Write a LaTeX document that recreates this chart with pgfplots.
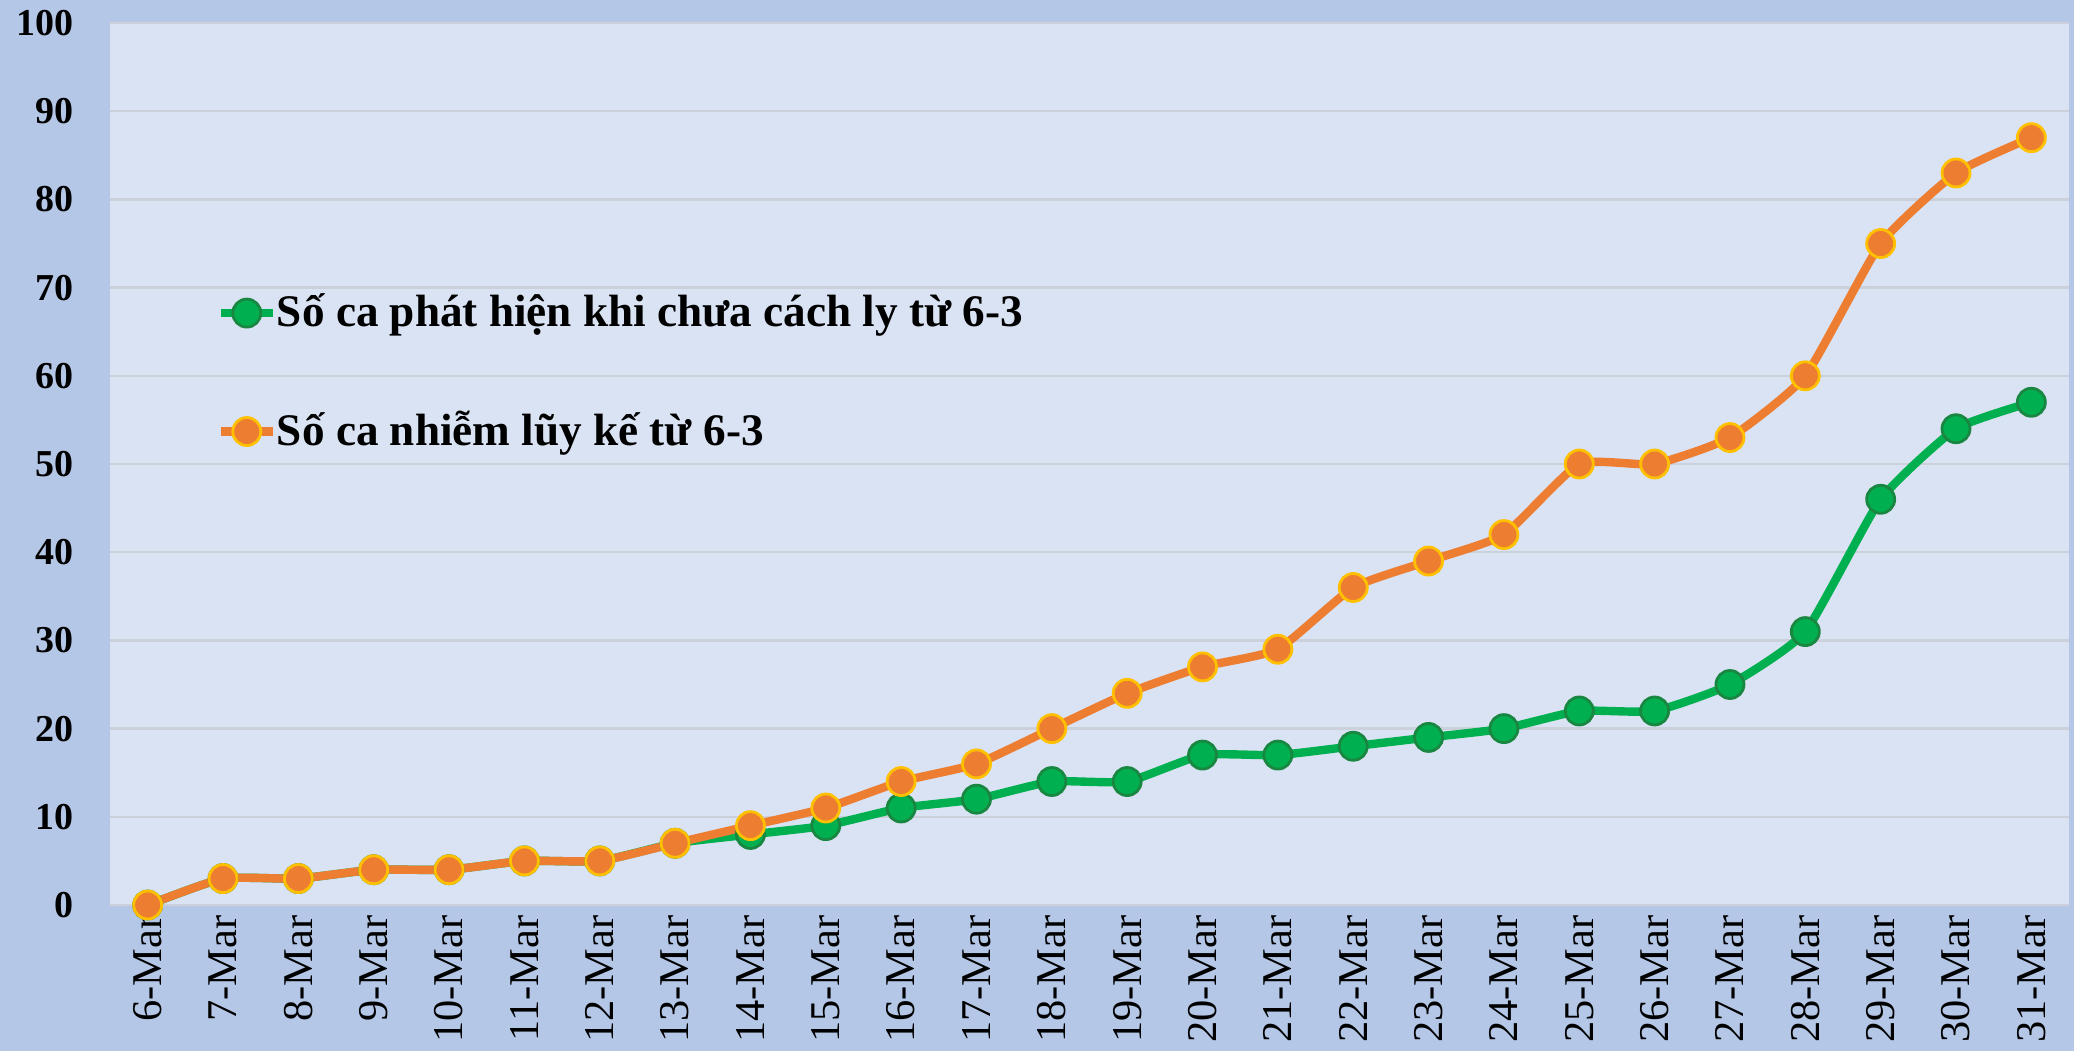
\documentclass[border=0pt]{standalone}
\usepackage{pgfplots}
\pgfplotsset{compat=1.18}
\usepackage{fontspec}
\setmainfont{Liberation Serif}
\usetikzlibrary{backgrounds,calc}
\definecolor{outerbg}{RGB}{180,199,231}
\definecolor{innerbg}{RGB}{218,227,243}
\definecolor{gridc}{RGB}{203,208,218}
\definecolor{cor}{RGB}{237,125,49}
\definecolor{cyel}{RGB}{255,192,0}
\definecolor{cgr}{RGB}{0,176,80}
\definecolor{cgrd}{RGB}{25,135,65}
\begin{document}
\begin{tikzpicture}
\begin{axis}[name=ax, scale only axis, width=489.75pt, height=220.5pt,
 xmin=-0.5, xmax=25.5, ymin=0, ymax=100,
 xtick={0,...,25},
 xticklabels={6-Mar,7-Mar,8-Mar,9-Mar,10-Mar,11-Mar,12-Mar,13-Mar,14-Mar,15-Mar,16-Mar,17-Mar,18-Mar,19-Mar,20-Mar,21-Mar,22-Mar,23-Mar,24-Mar,25-Mar,26-Mar,27-Mar,28-Mar,29-Mar,30-Mar,31-Mar},
 ytick={0,10,...,100},
 axis line style={draw=none}, major tick length=0pt,
 ymajorgrids, grid style={gridc, line width=0.6pt},
 axis background/.style={fill=innerbg},
 /pgf/number format/assume math mode=true,
 yticklabel style={font=\bfseries\fontsize{9.5}{10}\selectfont, inner sep=0pt, xshift=-9pt},
 xticklabel style={rotate=90, anchor=east, inner sep=0pt, xshift=-2.5pt, font=\fontsize{10.6}{12}\selectfont},
 clip=false,
 legend cell align=left,
 legend style={at={(rel axis cs:0.054,0.6035)}, anchor=west, draw=none, fill=none, inner sep=0pt, row sep=15.7pt,
   font=\bfseries\fontsize{11.3}{13}\selectfont,
   /tikz/every odd column/.append style={column sep=-2pt}},
 legend image code/.code={\draw[mark repeat=2, mark phase=2] plot coordinates {(0pt,0pt)(6.5pt,0pt)(13pt,0pt)};},
]
\addplot[cgr, line width=2.1pt, smooth, tension=0.3, mark=*, mark size=3.5pt, mark options={fill=cgr, draw=cgrd, line width=0.7pt}] coordinates {
(0,0)(1,3)(2,3)(3,4)(4,4)(5,5)(6,5)(7,7)(8,8)(9,9)(10,11)(11,12)(12,14)(13,14)(14,17)(15,17)(16,18)(17,19)(18,20)(19,22)(20,22)(21,25)(22,31)(23,46)(24,54)(25,57)};
\addlegendentry{Số ca phát hiện khi chưa cách ly từ 6-3}
\addplot[cor, line width=2.1pt, smooth, tension=0.3, mark=*, mark size=3.5pt, mark options={fill=cor, draw=cyel, line width=0.7pt}] coordinates {
(0,0)(1,3)(2,3)(3,4)(4,4)(5,5)(6,5)(7,7)(8,9)(9,11)(10,14)(11,16)(12,20)(13,24)(14,27)(15,29)(16,36)(17,39)(18,42)(19,50)(20,50)(21,53)(22,60)(23,75)(24,83)(25,87)};
\addlegendentry{Số ca nhiễm lũy kế từ 6-3}
\end{axis}
\begin{pgfonlayer}{background}
\fill[outerbg] ($(ax.south west)+(-27.5pt,-36.5pt)$) rectangle ($(ax.north east)+(1.25pt,5.75pt)$);
\end{pgfonlayer}
\pgfresetboundingbox
\useasboundingbox ($(ax.south west)+(-27.5pt,-36.5pt)$) rectangle ($(ax.north east)+(1.25pt,5.75pt)$);
\end{tikzpicture}
\end{document}
